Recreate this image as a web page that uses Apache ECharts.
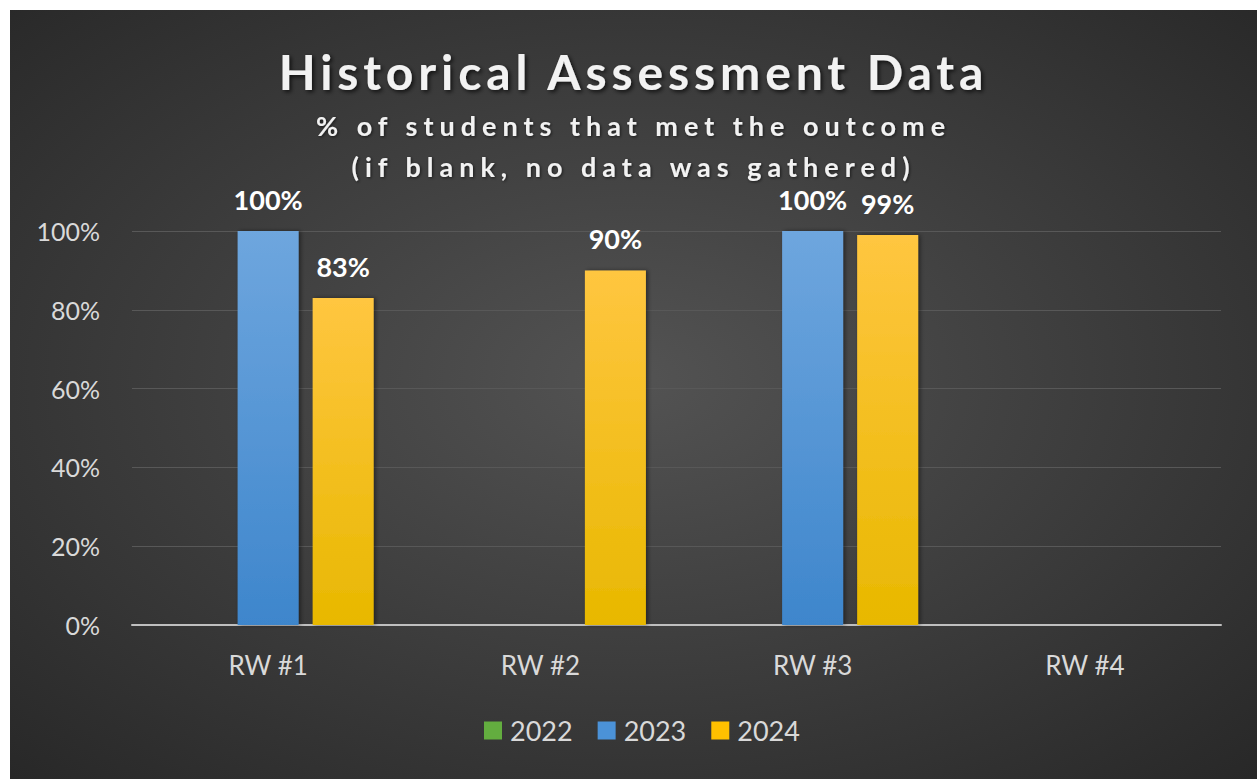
<!DOCTYPE html>
<html>
<head>
<meta charset="utf-8">
<script src="https://cdn.jsdelivr.net/npm/echarts@6/dist/echarts.min.js"></script>
<style>
  html, body { margin: 0; padding: 0; background: #ffffff; }
  #chart { position: absolute; left: 10px; top: 10px; width: 1247px; height: 769px; }
</style>
</head>
<body>
<div id="chart"></div>
<script>
// data
const categories = ['RW #1', 'RW #2', 'RW #3', 'RW #4']
const years = ['2022', '2023', '2024']
const values2022 = [null, null, null, null]
const values2023 = [100, null, 100, null]
const values2024 = [83, 90, 99, null]

const titleText = 'Historical Assessment Data'
const subLines = ['% of students that met the outcome', '(if blank, no data was gathered)']

const el = document.getElementById('chart')
// svg so the title lines can get letter spacing like the original
const chart = echarts.init(el, null, { renderer: 'svg' })

const grad = (top, bottom) => new echarts.graphic.LinearGradient(0, 0, 0, 1, [
  { offset: 0, color: top },
  { offset: 1, color: bottom }
])

const labelStyle = {
  show: true,
  position: 'top',
  distance: 18,
  color: '#ffffff',
  fontFamily: 'Lato',
  fontWeight: 'bold',
  fontSize: 27,
  formatter: (p) => p.value + '%'
}

const barShadow = {
  shadowColor: 'rgba(0,0,0,0.45)',
  shadowBlur: 4,
  shadowOffsetX: 2,
  shadowOffsetY: 0
}

const legendColors = ['#63ad3f', '#4b92d8', '#ffc000']

const option = {
  animation: false,
  backgroundColor: new echarts.graphic.RadialGradient(0.5, 0.48, 0.75, [
    { offset: 0, color: '#535353' },
    { offset: 1, color: '#262626' }
  ]),
  title: {
    text: titleText,
    subtext: subLines.join('\n'),
    left: 'center',
    top: 32,
    itemGap: 10,
    textStyle: {
      color: '#f2f2f2',
      fontFamily: 'Lato',
      fontWeight: 'bold',
      fontSize: 48,
      textShadowColor: 'rgba(0,0,0,0.7)',
      textShadowBlur: 4,
      textShadowOffsetX: 2,
      textShadowOffsetY: 2
    },
    subtextStyle: {
      color: '#f2f2f2',
      fontFamily: 'Lato',
      fontWeight: 'bold',
      fontSize: 27,
      lineHeight: 41,
      textShadowColor: 'rgba(0,0,0,0.6)',
      textShadowBlur: 3,
      textShadowOffsetX: 1,
      textShadowOffsetY: 1
    }
  },
  legend: {
    data: years.map((y, i) => ({ name: y, itemStyle: { color: legendColors[i] } })),
    bottom: 30,
    left: 469,
    icon: 'rect',
    itemWidth: 18,
    itemHeight: 18,
    itemGap: 25,
    textStyle: { color: '#d9d9d9', fontFamily: 'Lato', fontSize: 27, padding: [0, 0, 0, 3] }
  },
  grid: { left: 122, right: 36, top: 221, bottom: 154 },
  xAxis: {
    type: 'category',
    data: categories,
    axisTick: { show: false },
    axisLine: { lineStyle: { color: '#bfbfbf', width: 2 } },
    axisLabel: { color: '#d9d9d9', fontFamily: 'Lato', fontSize: 26, margin: 27 }
  },
  yAxis: {
    type: 'value',
    min: 0,
    max: 100,
    interval: 20,
    axisLine: { show: false },
    axisTick: { show: false },
    axisLabel: { color: '#d9d9d9', fontFamily: 'Lato', fontSize: 25, margin: 32, formatter: '{value}%' },
    splitLine: { lineStyle: { color: '#585858', width: 1 } }
  },
  series: [
    {
      name: '2022',
      type: 'bar',
      data: values2022,
      barWidth: 61,
      barGap: '23%',
      itemStyle: Object.assign({ color: grad('#7cc15a', '#4e9a2f') }, barShadow),
      label: labelStyle
    },
    {
      name: '2023',
      type: 'bar',
      data: values2023,
      barWidth: 61,
      barGap: '23%',
      itemStyle: Object.assign({ color: grad('#6ea6de', '#3e86cc') }, barShadow),
      label: labelStyle
    },
    {
      name: '2024',
      type: 'bar',
      data: values2024,
      barWidth: 61,
      barGap: '23%',
      itemStyle: Object.assign({ color: grad('#ffc640', '#e8b800') }, barShadow),
      label: labelStyle
    }
  ]
}

// letter spacing per title line (px)
const spacing = {}
spacing[titleText] = 4.9
spacing[subLines[0]] = 6
spacing[subLines[1]] = 6

const spaceTitle = () => {
  el.querySelectorAll('text').forEach((t) => {
    const s = spacing[t.textContent]
    if (!s || t.getAttribute('letter-spacing')) return
    t.setAttribute('letter-spacing', s)
    // keep the line centred: the extra width goes to the right of a start-anchored line
    const anchor = t.getAttribute('text-anchor') || 'start'
    const extra = t.textContent.length * s
    if (anchor === 'start') t.setAttribute('dx', -extra / 2)
    else if (anchor === 'end') t.setAttribute('dx', extra / 2)
  })
}

chart.on('finished', spaceTitle)
chart.setOption(option)
spaceTitle()
window.addEventListener('resize', () => chart.resize())
</script>
</body>
</html>
